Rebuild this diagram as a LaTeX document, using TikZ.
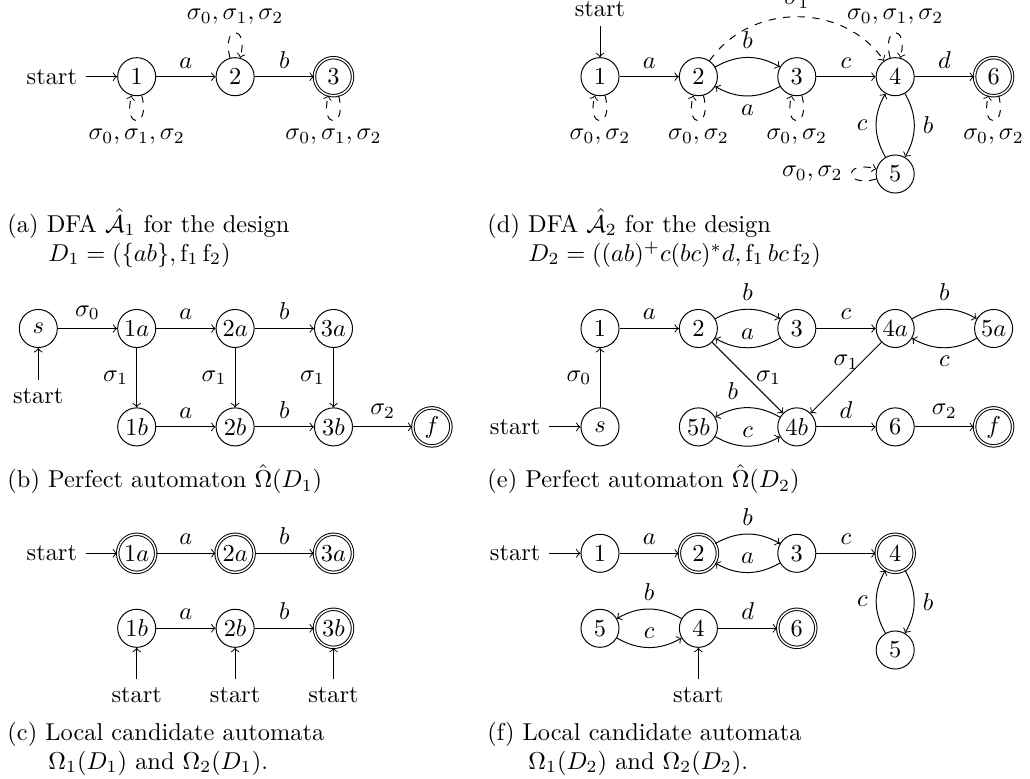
\documentclass[tikz,border=0pt]{standalone}
\usetikzlibrary{positioning}
\begin{document}
\begin{tikzpicture}[x=0.41pt,y=-0.41pt,
  st/.style={circle,draw,minimum size=15.6pt,inner sep=0.5pt},
  acc/.style={st,double},
  startlbl/.style={inner sep=0.3333em},
  captxt/.style={anchor=base west,inner sep=0pt},
  tr/.style={->},
  dl/.style={->,dashed}]
\useasboundingbox (0,0) rectangle (1030,779);

% ---------------- (a)
\node[st]  (a1) at (136.7,76.7) {$1$};
\node[st]  (a2) at (235.1,76.7) {$2$};
\node[acc] (a3) at (333.5,76.7) {$3$};
\node[startlbl,left=3ex of a1] (ast) {start};
\draw[tr] (ast) -- (a1);
\draw[tr] (a1) -- node[above] {$a$} (a2);
\draw[tr] (a2) -- node[above] {$b$} (a3);
\draw[dl] (a1) to[loop below] node[below] {$\sigma_0,\sigma_1,\sigma_2$} (a1);
\draw[dl] (a2) to[loop above] node[above] {$\sigma_0,\sigma_1,\sigma_2$} (a2);
\draw[dl] (a3) to[loop below] node[below] {$\sigma_0,\sigma_1,\sigma_2$} (a3);
\node[captxt] (capa1) at (7,232) {(a) DFA $\hat{\mathcal{A}}_1$ for the design};
\node[captxt] (capa2) at (48,261) {$D_1=(\{ab\},\mathrm{f}_1\,\mathrm{f}_2)$};

% ---------------- (d)
\node[st]  (d1) at (600,76.7) {$1$};
\node[st]  (d2) at (698.4,76.7) {$2$};
\node[st]  (d3) at (796.8,76.7) {$3$};
\node[st]  (d4) at (895.2,76.7) {$4$};
\node[acc] (d6) at (993.6,76.7) {$6$};
\node[st]  (d5) at (895.2,174) {$5$};
\node[startlbl,above=3ex of d1] (dst) {start};
\draw[tr] (dst) -- (d1);
\draw[tr] (d1) -- node[above] {$a$} (d2);
\draw[tr] (d2) to[bend left] node[above] {$b$} (d3);
\draw[tr] (d3) to[bend left] node[below] {$a$} (d2);
\draw[tr] (d3) -- node[above] {$c$} (d4);
\draw[tr] (d4) -- node[above] {$d$} (d6);
\draw[tr] (d4) to[bend left] node[right] {$b$} (d5);
\draw[tr] (d5) to[bend left] node[left] {$c$} (d4);
\draw[dl] (d2) to[out=55,in=125,looseness=1.05] node[above] {$\sigma_1$} (d4);
\draw[dl] (d1) to[loop below] node[below] {$\sigma_0,\sigma_2$} (d1);
\draw[dl] (d2) to[loop below] node[below] {$\sigma_0,\sigma_2$} (d2);
\draw[dl] (d3) to[loop below] node[below] {$\sigma_0,\sigma_2$} (d3);
\draw[dl] (d6) to[loop below] node[below] {$\sigma_0,\sigma_2$} (d6);
\draw[dl] (d4) to[loop above] node[above] {$\sigma_0,\sigma_1,\sigma_2$} (d4);
\draw[dl] (d5) to[loop left] node[left] {$\sigma_0,\sigma_2$} (d5);
\node[captxt] (capd1) at (487,232) {(d) DFA $\hat{\mathcal{A}}_2$ for the design};
\node[captxt] (capd2) at (528,261) {$D_2=((ab)^+c(bc)^*d,\mathrm{f}_1\,bc\,\mathrm{f}_2)$};

% ---------------- (b)
\node[st]  (bs)  at (38.3,328.5) {$s$};
\node[st]  (b1a) at (136.7,328.5) {$1a$};
\node[st]  (b2a) at (235.1,328.5) {$2a$};
\node[st]  (b3a) at (333.5,328.5) {$3a$};
\node[st]  (b1b) at (136.7,426.9) {$1b$};
\node[st]  (b2b) at (235.1,426.9) {$2b$};
\node[st]  (b3b) at (333.5,426.9) {$3b$};
\node[acc] (bf)  at (431.9,426.9) {$f$};
\node[startlbl,below=3ex of bs] (bst) {start};
\draw[tr] (bst) -- (bs);
\draw[tr] (bs) -- node[above] {$\sigma_0$} (b1a);
\draw[tr] (b1a) -- node[above] {$a$} (b2a);
\draw[tr] (b2a) -- node[above] {$b$} (b3a);
\draw[tr] (b1a) -- node[left] {$\sigma_1$} (b1b);
\draw[tr] (b2a) -- node[left] {$\sigma_1$} (b2b);
\draw[tr] (b3a) -- node[left] {$\sigma_1$} (b3b);
\draw[tr] (b1b) -- node[above] {$a$} (b2b);
\draw[tr] (b2b) -- node[above] {$b$} (b3b);
\draw[tr] (b3b) -- node[above] {$\sigma_2$} (bf);
\node[captxt] (capb) at (7,487.7) {(b) Perfect automaton $\hat{\Omega}(D_1)$};

% ---------------- (e)
\node[st]  (e1)  at (600,328.5) {$1$};
\node[st]  (e2)  at (698.4,328.5) {$2$};
\node[st]  (e3)  at (796.8,328.5) {$3$};
\node[st]  (e4a) at (895.2,328.5) {$4a$};
\node[st]  (e5a) at (993.6,328.5) {$5a$};
\node[st]  (es)  at (600,426.9) {$s$};
\node[st]  (e5b) at (698.4,426.9) {$5b$};
\node[st]  (e4b) at (796.8,426.9) {$4b$};
\node[st]  (e6)  at (895.2,426.9) {$6$};
\node[acc] (ef)  at (993.6,426.9) {$f$};
\node[startlbl,left=3ex of es] (est) {start};
\draw[tr] (est) -- (es);
\draw[tr] (es) -- node[left] {$\sigma_0$} (e1);
\draw[tr] (e1) -- node[above] {$a$} (e2);
\draw[tr] (e2) to[bend left] node[above] {$b$} (e3);
\draw[tr] (e3) to[bend left] node[above] {$a$} (e2);
\draw[tr] (e3) -- node[above] {$c$} (e4a);
\draw[tr] (e4a) to[bend left] node[above] {$b$} (e5a);
\draw[tr] (e5a) to[bend left] node[below] {$c$} (e4a);
\draw[tr] (e2) -- node[right] {$\sigma_1$} (e4b);
\draw[tr] (e4a) -- node[above] {$\sigma_1$} (e4b);
\draw[tr] (e4b) to[bend right] node[above,xshift=-6pt] {$b$} (e5b);
\draw[tr] (e5b) to[bend right] node[above] {$c$} (e4b);
\draw[tr] (e4b) -- node[above] {$d$} (e6);
\draw[tr] (e6) -- node[above] {$\sigma_2$} (ef);
\node[captxt] (cape) at (487,487.7) {(e) Perfect automaton $\hat{\Omega}(D_2)$};

% ---------------- (c)
\node[acc] (c1a) at (136.7,553.3) {$1a$};
\node[acc] (c2a) at (235.1,553.3) {$2a$};
\node[acc] (c3a) at (333.5,553.3) {$3a$};
\node[startlbl,left=3ex of c1a] (cst) {start};
\draw[tr] (cst) -- (c1a);
\draw[tr] (c1a) -- node[above] {$a$} (c2a);
\draw[tr] (c2a) -- node[above] {$b$} (c3a);
\node[st]  (c1b) at (136.7,628.3) {$1b$};
\node[st]  (c2b) at (235.1,628.3) {$2b$};
\node[acc] (c3b) at (333.5,628.3) {$3b$};
\node[startlbl,below=3ex of c1b] (cst1) {start};
\node[startlbl,below=3ex of c2b] (cst2) {start};
\node[startlbl,below=3ex of c3b] (cst3) {start};
\draw[tr] (cst1) -- (c1b);
\draw[tr] (cst2) -- (c2b);
\draw[tr] (cst3) -- (c3b);
\draw[tr] (c1b) -- node[above] {$a$} (c2b);
\draw[tr] (c2b) -- node[above] {$b$} (c3b);
\node[captxt] (capc1) at (7,740) {(c) Local candidate automata};
\node[captxt] (capc2) at (48,769) {$\Omega_1(D_1)$ and $\Omega_2(D_1)$.};

% ---------------- (f)
\node[st]  (f1)  at (600,553.3) {$1$};
\node[acc] (f2)  at (698.4,553.3) {$2$};
\node[st]  (f3)  at (796.8,553.3) {$3$};
\node[acc] (f4)  at (895.2,553.3) {$4$};
\node[st]  (f5r) at (895.2,650) {$5$};
\node[startlbl,left=3ex of f1] (fst) {start};
\draw[tr] (fst) -- (f1);
\draw[tr] (f1) -- node[above] {$a$} (f2);
\draw[tr] (f2) to[bend left] node[above] {$b$} (f3);
\draw[tr] (f3) to[bend left] node[above] {$a$} (f2);
\draw[tr] (f3) -- node[above] {$c$} (f4);
\draw[tr] (f4) to[bend left] node[right] {$b$} (f5r);
\draw[tr] (f5r) to[bend left] node[left] {$c$} (f4);
\node[st]  (f5)  at (600,628.3) {$5$};
\node[st]  (f4l) at (698.4,628.3) {$4$};
\node[acc] (f6)  at (796.8,628.3) {$6$};
\node[startlbl,below=3ex of f4l] (fst2) {start};
\draw[tr] (fst2) -- (f4l);
\draw[tr] (f4l) to[bend right] node[above] {$b$} (f5);
\draw[tr] (f5) to[bend right] node[above] {$c$} (f4l);
\draw[tr] (f4l) -- node[above] {$d$} (f6);
\node[captxt] (capf1) at (487,740) {(f) Local candidate automata};
\node[captxt] (capf2) at (528,769) {$\Omega_1(D_2)$ and $\Omega_2(D_2)$.};
\end{tikzpicture}
\end{document}
